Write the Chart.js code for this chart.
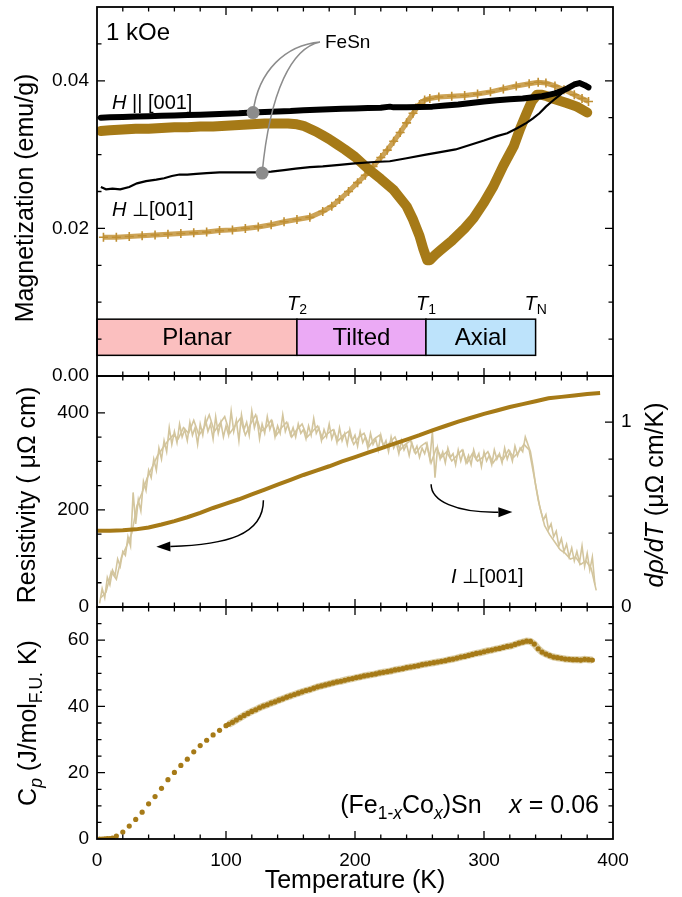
<!DOCTYPE html>
<html>
<head>
<meta charset="utf-8">
<script src="https://cdn.jsdelivr.net/npm/chart.js@4.4.1/dist/chart.umd.min.js"></script>
<style>
body { margin: 0; background: #fff; }
canvas { position: absolute; left: 0; top: 0; }
</style>
</head>
<body>
<canvas id="cM" width="682" height="897"></canvas>
<canvas id="cR" width="682" height="897"></canvas>
<canvas id="cC" width="682" height="897"></canvas>
<script>
// --- magnetization, 1 kOe ---
// FeSn, H || [001] (thick black)
const tParFeSn = [3,10,20,30,40,50,60,70,80,90,100,110,120,130,140,150,160,170,180,190,200,210,220,227,230,240,250,260,270,280,290,300,310,320,330,340,345,350,355,360,365,370,374,378,381];
const mParFeSn = [0.0350,0.03505,0.0351,0.03515,0.0352,0.03525,0.0353,0.03535,0.0354,0.03548,0.03555,0.0356,0.0357,0.03578,0.03585,0.0359,0.036,0.03608,0.03615,0.0362,0.03625,0.0363,0.03635,0.0365,0.0364,0.03642,0.03645,0.0365,0.03665,0.0368,0.037,0.0372,0.03735,0.0375,0.0376,0.0378,0.0379,0.0381,0.0383,0.0386,0.039,0.0395,0.0397,0.0394,0.0391];
// FeSn, H perp [001] (thin black)
const tPerpFeSn = [3,7,12,18,25,31,38,46,52,58,64,70,77,85,95,103,115,126,135,145,154,165,175,188,200,215,227,240,255,265,278,289,300,310,318,326,333,338,343,348,354,359,364,368,372];
const mPerpFeSn = [0.0256,0.0253,0.0254,0.0253,0.0256,0.0261,0.0264,0.0266,0.0268,0.0271,0.0273,0.0273,0.0274,0.0275,0.0276,0.0276,0.0276,0.0276,0.0277,0.0279,0.0281,0.0283,0.0284,0.0286,0.0288,0.029,0.0291,0.0295,0.03,0.0303,0.0307,0.0313,0.0319,0.0325,0.0329,0.0336,0.0343,0.0349,0.0356,0.0365,0.0374,0.0381,0.0388,0.0392,0.0394];
// x = 0.06, H || [001] (thick gold)
const tParCo = [3,10,20,30,40,50,60,70,80,90,100,110,120,130,140,148,155,160,165,170,175,180,186,192,200,210,220,230,240,245,250,253,256,258,262,266,275,285,292,300,307,315,323,328,333,337,341,345,349,355,364,372,380];
const mParCo = [0.0332,0.0333,0.0334,0.0335,0.0335,0.0336,0.0337,0.0337,0.0338,0.0338,0.0339,0.034,0.0341,0.0342,0.0342,0.0342,0.0341,0.0339,0.0335,0.0331,0.0326,0.0321,0.0314,0.0307,0.0297,0.0281,0.0267,0.0252,0.023,0.0212,0.019,0.0172,0.0157,0.0157,0.0164,0.017,0.0183,0.02,0.0214,0.0235,0.0256,0.0285,0.0311,0.0335,0.0356,0.0372,0.0381,0.0381,0.0379,0.0375,0.037,0.0365,0.0357];
// x = 0.06, H perp [001] (gold crosses)
const tPerpCo = [5,15,25,35,45,55,65,75,85,95,105,115,125,135,145,155,165,175,182,188,195,202,208,214,220,225,230,235,240,245,250,254,258,265,275,285,295,305,315,325,335,342,348,355,362,370,376,381];
const mPerpCo = [0.0188,0.0188,0.0189,0.019,0.0191,0.0192,0.0193,0.0194,0.0195,0.0197,0.0198,0.02,0.0202,0.0205,0.0209,0.0212,0.0215,0.0223,0.023,0.0239,0.025,0.0262,0.0272,0.0284,0.0296,0.0306,0.0318,0.033,0.0343,0.0356,0.0368,0.0374,0.0376,0.0378,0.0379,0.038,0.0382,0.0385,0.0389,0.0393,0.0396,0.0398,0.0397,0.0393,0.0388,0.0381,0.0376,0.0372];
const magTickLabels = [0, 0.02, 0.04];

// phase diagram strip
const phaseNames = ['Planar', 'Tilted', 'Axial'];
const phaseEdges = [0, 155, 255, 340];
const phaseColors = ['#fbbfbf', '#ebaaf5', '#bde3fb'];
const phaseMarks = [['2', 155], ['1', 255], ['N', 340]];
const phaseBarY = [0.0028, 0.0077];
const fesnDots = [[121, 0.0357], [128, 0.0275]];

// --- resistivity ---
const tRho = [0,10,20,30,40,50,60,70,80,90,100,110,120,130,140,150,160,170,180,190,200,210,220,230,240,250,260,270,280,290,300,310,320,330,340,345,350,360,370,380,390];
const rho = [157,157,158,160,164,170,177,185,194,204,213,222,232,242,252,262,272,281,290,300,309,318,327,336,345,354,364,373,382,390,398,405,412,418,424,427,430,433,436,439,441];
const rhoTickLabels = [0, 200, 400];
// d rho / dT, two sweeps
const tDrhoA = [2,4,6,8,10,12,14,16,18,20,22,24,26,28,30,32,34,36,38,40,42,44,46,48,50,52,54,56,58,60,62,64,66,68,70,72,74,76,78,80,82,84,86,88,90,92,94,96,98,100,102,104,106,108,110,112,114,116,118,120,122,124,126,128,130,132,134,136,138,140,142,144,146,148,150,152,154,156,158,160,162,164,166,168,170,172,174,176,178,180,182,184,186,188,190,192,194,196,198,200,202,204,206,208,210,212,214,216,218,220,222,224,226,228,230,232,234,236,238,240,242,244,246,248,250,252,254,256,258,260,262,264,266,268,270,272,274,276,278,280,282,284,286,288,290,292,294,296,298,300,302,304,306,308,310,312,314,316,318,320,322,324,326,328,330,332,334,336,338,340,342,344,346,348,350,352,354,356,358,360,362,364,366,368,370,372,374,376,378,380,382,384,386];
const drhoA = [0.02,0.10,0.05,0.16,0.12,0.20,0.17,0.26,0.22,0.30,0.28,0.38,0.33,0.62,0.45,0.58,0.52,0.68,0.63,0.74,0.70,0.80,0.74,0.86,0.80,0.90,0.84,0.97,0.88,0.95,0.89,0.99,0.92,0.96,0.90,1.00,0.93,0.97,0.88,0.99,0.93,1.02,0.95,0.99,0.91,1.03,0.94,1.00,0.92,0.98,0.93,1.06,0.95,1.01,0.90,1.04,0.96,1.00,0.93,1.06,0.97,1.02,0.91,0.99,0.94,1.03,0.96,1.00,0.92,0.98,0.94,1.04,0.95,0.99,0.93,0.97,0.92,0.99,0.94,0.96,0.91,0.98,0.93,1.02,0.94,0.97,0.90,0.96,0.92,0.99,0.91,0.95,0.89,0.97,0.90,0.94,0.88,0.96,0.90,0.93,0.87,0.95,0.89,0.92,0.86,0.94,0.88,0.91,0.85,0.93,0.87,0.90,0.84,0.92,0.86,0.89,0.83,0.90,0.85,0.88,0.82,0.89,0.84,0.87,0.81,0.86,0.83,0.88,0.80,0.95,0.70,0.86,0.80,0.84,0.78,0.86,0.81,0.83,0.77,0.85,0.79,0.84,0.78,0.82,0.77,0.85,0.80,0.83,0.76,0.84,0.79,0.82,0.77,0.85,0.80,0.83,0.78,0.86,0.80,0.84,0.79,0.87,0.82,0.86,0.84,0.92,0.88,0.84,0.76,0.66,0.58,0.52,0.47,0.50,0.42,0.45,0.38,0.41,0.33,0.37,0.30,0.34,0.27,0.32,0.25,0.30,0.24,0.33,0.22,0.29,0.20,0.27,0.12];
const tDrhoB = [3,7,11,15,19,23,27,31,35,39,43,47,51,55,59,63,67,71,75,79,83,87,91,95,99,103,107,111,115,119,123,127,131,135,139,143,147,151,155,159,163,167,171,175,179,183,187,191,195,199,203,207,211,215,219,223,227,231,235,239,243,247,251,255,259,263,267,271,275,279,283,287,291,295,299,303,307,311,315,319,323,327,331,335,339,343,347,351,355,359,363,367,371,375,379,383,387];
const drhoB = [0.05,0.08,0.19,0.15,0.27,0.33,0.40,0.55,0.62,0.70,0.76,0.82,0.86,0.90,0.93,0.91,0.97,0.94,1.01,0.93,0.97,1.04,0.95,0.99,1.03,0.94,0.98,1.02,0.93,0.99,1.04,0.95,0.97,1.01,0.93,0.97,1.00,0.92,0.96,0.99,0.92,0.95,0.98,0.91,0.94,0.96,0.90,0.93,0.95,0.88,0.92,0.94,0.87,0.91,0.93,0.86,0.89,0.92,0.85,0.88,0.90,0.83,0.87,0.89,0.78,0.86,0.81,0.84,0.79,0.82,0.85,0.78,0.83,0.79,0.81,0.84,0.78,0.82,0.80,0.85,0.81,0.84,0.88,0.85,0.70,0.55,0.44,0.39,0.35,0.31,0.29,0.26,0.27,0.23,0.25,0.21,0.09];
const drhoTickLabels = [0, 1];

// --- specific heat ---
const tCpLow = [2,4,6,8,10,12,15,20,25,30,35,40,45,50,55,60,65,70,75,80,85,90,95,100];
const cpLow = [0,0,0.05,0.1,0.15,0.3,0.9,2.1,3.9,5.9,8.1,10.6,12.8,15.3,17.9,20.1,22.2,24.1,26.3,28.2,29.8,31.4,32.8,34.2];
const tCpHigh = [102,105,108,111,114,117,120,123,126,129,132,135,138,141,144,147,150,153,156,159,162,165,168,171,174,177,180,183,186,189,192,195,198,201,204,207,210,213,216,219,222,225,228,231,234,237,240,243,246,249,252,255,258,261,264,267,270,273,276,279,282,285,288,291,294,297,300,303,306,309,312,315,318,321,324,327,330,333,336,339,342,345,348,351,354,357,360,363,366,369,372,375,378,381,384];
const cpHigh = [34.6,35.2,35.9,36.6,37.3,37.9,38.5,39.0,39.6,40.1,40.5,41.0,41.4,41.9,42.3,42.8,43.2,43.6,44.0,44.4,44.8,45.1,45.5,45.9,46.2,46.5,46.8,47.1,47.4,47.6,47.9,48.2,48.4,48.7,48.9,49.2,49.4,49.6,49.8,50.1,50.3,50.5,50.7,51.0,51.2,51.4,51.7,51.9,52.1,52.3,52.6,52.8,53.0,53.2,53.4,53.6,53.8,54.1,54.3,54.6,54.9,55.1,55.4,55.7,56.0,56.2,56.5,56.8,57.0,57.3,57.5,57.8,58.1,58.3,58.7,59.1,59.4,59.7,59.6,58.8,57.4,56.4,55.8,55.3,54.9,54.7,54.5,54.3,54.2,54.1,54.1,54.0,54.2,54.1,54.0];
const cpTickLabels = [0, 20, 40, 60];
const tempTickLabels = [0, 100, 200, 300, 400];

const FONT = '"Liberation Sans", Arial, Helvetica, sans-serif';
const GOLD = '#a67a17';
const pts = (xs, ys) => xs.map((x, i) => ({ x: x, y: ys[i] }));
const isMult = (v, s) => Math.abs(v / s - Math.round(v / s)) < 1e-6;
const inList = (list, v) => list.some(l => Math.abs(l - v) < 1e-9);

// text with italic / subscript pieces
function rich(ctx, x, y, parts, size, align, rot) {
  ctx.save();
  ctx.translate(x, y);
  if (rot) ctx.rotate(rot);
  const font = (f, s) => (f.includes('i') ? 'italic ' : '') + s + 'px ' + FONT;
  const sz = f => f.includes('s') ? size * 0.7 : size;
  let w = 0;
  parts.forEach(p => { ctx.font = font(p[1] || '', sz(p[1] || '')); w += ctx.measureText(p[0]).width; });
  let cx = align === 'left' ? 0 : align === 'right' ? -w : -w / 2;
  ctx.textBaseline = 'middle';
  ctx.textAlign = 'left';
  ctx.fillStyle = '#000';
  parts.forEach(p => {
    const f = p[1] || '';
    ctx.font = font(f, sz(f));
    ctx.fillText(p[0], cx, f.includes('s') ? size * 0.32 : 0);
    cx += ctx.measureText(p[0]).width;
  });
  ctx.restore();
}

// fixed axis sizes so the three panels line up
function noPad(s) { s.paddingTop = 0; s.paddingBottom = 0; s.paddingLeft = 0; s.paddingRight = 0; }

function yScale(min, max, step, labels, fmt, width, pos) {
  return {
    type: 'linear', position: pos || 'left', min: min, max: max,
    ticks: { stepSize: step, autoSkip: false, padding: 8, color: '#000', font: { family: FONT, size: 19 },
      callback: v => inList(labels, v) ? fmt(v) : '' },
    grid: { display: false, drawTicks: false }, border: { display: false },
    afterFit: s => { s.width = width; noPad(s); }
  };
}
function xScale(show) {
  return {
    type: 'linear', min: 0, max: 400,
    ticks: { stepSize: 20, autoSkip: false, maxRotation: 0, display: show, padding: 10, color: '#000',
      font: { family: FONT, size: 19 }, callback: v => inList(tempTickLabels, v) ? String(v) : '' },
    grid: { display: false, drawTicks: false }, border: { display: false },
    afterFit: s => { s.height = show ? 58 : 0; noPad(s); }
  };
}

// frame and inward ticks on all four sides
const frameTicks = {
  id: 'frameTicks',
  afterDraw(chart, args, o) {
    const { ctx, chartArea: a, scales } = chart;
    const each = (scale, cfg, fn) => scale.ticks.forEach(t => {
      const v = t.value;
      if (!isMult(v, cfg.step) || Math.abs(v - scale.min) < 1e-9 || Math.abs(v - scale.max) < 1e-9) return;
      fn(scale.getPixelForValue(v), isMult(v, cfg.major) ? 8 : 4.5);
    });
    ctx.save();
    ctx.strokeStyle = '#000';
    ctx.lineWidth = 1.3;
    ctx.beginPath();
    each(scales.x, o.x, (p, L) => { ctx.moveTo(p, a.top); ctx.lineTo(p, a.top + L); ctx.moveTo(p, a.bottom); ctx.lineTo(p, a.bottom - L); });
    each(scales.y, o.y, (p, L) => {
      ctx.moveTo(a.left, p); ctx.lineTo(a.left + L, p);
      if (!scales.y2) { ctx.moveTo(a.right, p); ctx.lineTo(a.right - L, p); }
    });
    if (scales.y2) each(scales.y2, o.y2, (p, L) => { ctx.moveTo(a.right, p); ctx.lineTo(a.right - L, p); });
    ctx.stroke();
    ctx.lineWidth = 1.8;
    ctx.strokeRect(a.left, a.top, a.width, a.height);
    ctx.restore();
  }
};

function arrow(ctx, sx, sy, c1x, c1y, c2x, c2y, ex, ey) {
  const ang = Math.atan2(ey - c2y, ex - c2x);
  const bx = ex - 14 * Math.cos(ang), by = ey - 14 * Math.sin(ang);
  ctx.beginPath();
  ctx.moveTo(sx, sy);
  ctx.bezierCurveTo(c1x, c1y, c2x, c2y, bx, by);
  ctx.stroke();
  ctx.beginPath();
  ctx.moveTo(ex, ey);
  ctx.lineTo(bx + 5 * Math.sin(ang), by - 5 * Math.cos(ang));
  ctx.lineTo(bx - 5 * Math.sin(ang), by + 5 * Math.cos(ang));
  ctx.closePath();
  ctx.fill();
}

const magExtras = {
  id: 'magExtras',
  afterDatasetsDraw(chart) {
    const { ctx, scales: { x, y } } = chart;
    ctx.save();
    const yt = y.getPixelForValue(phaseBarY[1]), yb = y.getPixelForValue(phaseBarY[0]);
    for (let i = 0; i < 3; i++) {
      const x0 = x.getPixelForValue(phaseEdges[i]), x1 = x.getPixelForValue(phaseEdges[i + 1]);
      ctx.fillStyle = phaseColors[i];
      ctx.fillRect(x0, yt, x1 - x0, yb - yt);
      ctx.strokeStyle = '#000';
      ctx.lineWidth = 1.5;
      ctx.strokeRect(x0, yt, x1 - x0, yb - yt);
      rich(ctx, (x0 + x1) / 2, (yt + yb) / 2 + 1, [[phaseNames[i]]], 24, 'center');
    }
    phaseMarks.forEach(m => rich(ctx, x.getPixelForValue(m[1]), yt - 15, [['T', 'i'], [m[0], 's']], 20, 'center'));
    // FeSn pointers
    const d1 = [x.getPixelForValue(fesnDots[0][0]), y.getPixelForValue(fesnDots[0][1])];
    const d2 = [x.getPixelForValue(fesnDots[1][0]), y.getPixelForValue(fesnDots[1][1])];
    const sx = 320, sy = 42;
    ctx.strokeStyle = '#8c8c8c';
    ctx.lineWidth = 1.5;
    ctx.beginPath();
    ctx.moveTo(sx, sy);
    ctx.bezierCurveTo(286, 45, d1[0] + 5, d1[1] - 42, d1[0], d1[1]);
    ctx.moveTo(sx, sy);
    ctx.bezierCurveTo(292, 48, d2[0] + 8, d2[1] - 83, d2[0], d2[1]);
    ctx.stroke();
    ctx.fillStyle = '#8c8c8c';
    [d1, d2].forEach(d => { ctx.beginPath(); ctx.arc(d[0], d[1], 6.5, 0, 2 * Math.PI); ctx.fill(); });
    rich(ctx, 325, 43, [['FeSn']], 19, 'left');
    rich(ctx, 106, 33, [['1 kOe']], 24, 'left');
    rich(ctx, 112, 103, [['H', 'i'], [' || [001]']], 20, 'left');
    rich(ctx, 112, 210, [['H', 'i'], [' \u22A5[001]']], 20, 'left');
    ctx.restore();
  },
  afterDraw(chart) {
    rich(chart.ctx, 26, 198, [['Magnetization (emu/g)']], 25, 'center', -Math.PI / 2);
  }
};

const rhoExtras = {
  id: 'rhoExtras',
  afterDatasetsDraw(chart) {
    const { ctx, scales: { x, y } } = chart;
    ctx.save();
    ctx.strokeStyle = '#000';
    ctx.fillStyle = '#000';
    ctx.lineWidth = 1.5;
    let sx = x.getPixelForValue(129), sy = y.getPixelForValue(220);
    let ex = x.getPixelForValue(46), ey = y.getPixelForValue(124);
    arrow(ctx, sx, sy, sx, sy + (ey - sy) * 0.75, sx - (sx - ex) * 0.35, ey - 2, ex, ey);
    sx = x.getPixelForValue(259); sy = y.getPixelForValue(253);
    ex = x.getPixelForValue(322); ey = y.getPixelForValue(196);
    arrow(ctx, sx, sy, sx, sy + (ey - sy) * 0.6, sx + (ex - sx) * 0.3, ey + 1, ex, ey);
    rich(ctx, 451, 577, [['I', 'i'], [' \u22A5[001]']], 20, 'left');
    ctx.restore();
  },
  afterDraw(chart) {
    rich(chart.ctx, 28, 495, [['Resistivity ( \u03BC\u03A9 cm)']], 25, 'center', -Math.PI / 2);
    rich(chart.ctx, 656, 495, [['d', 'i'], ['\u03C1', 'i'], ['/', 'i'], ['d', 'i'], ['T', 'i'], [' (\u03BC\u03A9 cm/K)']], 25, 'center', -Math.PI / 2);
  }
};

const cpExtras = {
  id: 'cpExtras',
  afterDatasetsDraw(chart) {
    rich(chart.ctx, 599, 806, [['(Fe'], ['1-', 's'], ['x', 'is'], ['Co'], ['x', 'is'], [')Sn    '], ['x', 'i'], [' = 0.06']], 25, 'right');
  },
  afterDraw(chart) {
    rich(chart.ctx, 29, 723, [['C'], ['p', 'is'], [' (J/mol'], ['F.U.', 's'], [' K)']], 25, 'center', -Math.PI / 2);
    rich(chart.ctx, 355, 881, [['Temperature (K)']], 25, 'center');
  }
};

const base = { responsive: false, animation: false, events: [],
  plugins: { legend: { display: false }, tooltip: { enabled: false } } };

new Chart(document.getElementById('cM'), {
  type: 'scatter',
  data: { datasets: [
    { data: pts(tParFeSn, mParFeSn), showLine: true, borderColor: '#000', borderWidth: 6, pointRadius: 0, borderCapStyle: 'round', borderJoinStyle: 'round' },
    { data: pts(tPerpFeSn, mPerpFeSn), showLine: true, borderColor: '#000', borderWidth: 2.2, pointRadius: 0 },
    { data: pts(tParCo, mParCo), showLine: true, borderColor: GOLD, borderWidth: 10, pointRadius: 0, borderCapStyle: 'round', borderJoinStyle: 'round' },
    { data: pts(tPerpCo, mPerpCo), showLine: true, borderColor: '#cca356', borderWidth: 5, pointStyle: 'cross', pointRadius: 4.5, pointBorderWidth: 1.6, pointBorderColor: '#bf8f33' }
  ] },
  options: Object.assign({}, base, {
    layout: { padding: { top: 7, right: 69, bottom: 521, left: 0 } },
    scales: { x: xScale(false), y: yScale(0, 0.05, 0.005, magTickLabels, v => v.toFixed(2), 97) },
    plugins: Object.assign({}, base.plugins, { frameTicks: { x: { step: 20, major: 100 }, y: { step: 0.005, major: 0.02 } } })
  }),
  plugins: [frameTicks, magExtras]
});

new Chart(document.getElementById('cR'), {
  type: 'scatter',
  data: { datasets: [
    { data: pts(tRho, rho), yAxisID: 'y', showLine: true, borderColor: GOLD, borderWidth: 4, pointRadius: 0 },
    { data: pts(tDrhoA, drhoA), yAxisID: 'y2', showLine: true, borderColor: '#d3c59d', borderWidth: 1.6, pointRadius: 0 },
    { data: pts(tDrhoB, drhoB), yAxisID: 'y2', showLine: true, borderColor: '#d3c59d', borderWidth: 1.6, pointRadius: 0 }
  ] },
  options: Object.assign({}, base, {
    layout: { padding: { top: 376, right: 0, bottom: 290, left: 0 } },
    scales: {
      x: xScale(false),
      y: yScale(0, 476, 50, rhoTickLabels, v => String(v), 97),
      y2: yScale(0, 1.25, 0.2, drhoTickLabels, v => String(Math.round(v)), 69, 'right')
    },
    plugins: Object.assign({}, base.plugins, { frameTicks: { x: { step: 20, major: 100 }, y: { step: 50, major: 200 }, y2: { step: 0.2, major: 1 } } })
  }),
  plugins: [frameTicks, rhoExtras]
});

new Chart(document.getElementById('cC'), {
  type: 'scatter',
  data: { datasets: [
    { data: pts(tCpHigh, cpHigh), pointRadius: 2.6, pointBackgroundColor: GOLD, pointBorderWidth: 0 },
    { data: pts(tCpLow, cpLow), pointRadius: 2.6, pointBackgroundColor: GOLD, pointBorderWidth: 0 },
    { data: pts(tCpHigh, cpHigh), showLine: true, borderColor: '#dccfa8', borderWidth: 7, pointRadius: 0 }
  ] },
  options: Object.assign({}, base, {
    layout: { padding: { top: 607, right: 69, bottom: 0, left: 0 } },
    scales: { x: xScale(true), y: yScale(0, 70, 5, cpTickLabels, v => String(v), 97) },
    plugins: Object.assign({}, base.plugins, { frameTicks: { x: { step: 20, major: 100 }, y: { step: 5, major: 20 } } })
  }),
  plugins: [frameTicks, cpExtras]
});
</script>
</body>
</html>
